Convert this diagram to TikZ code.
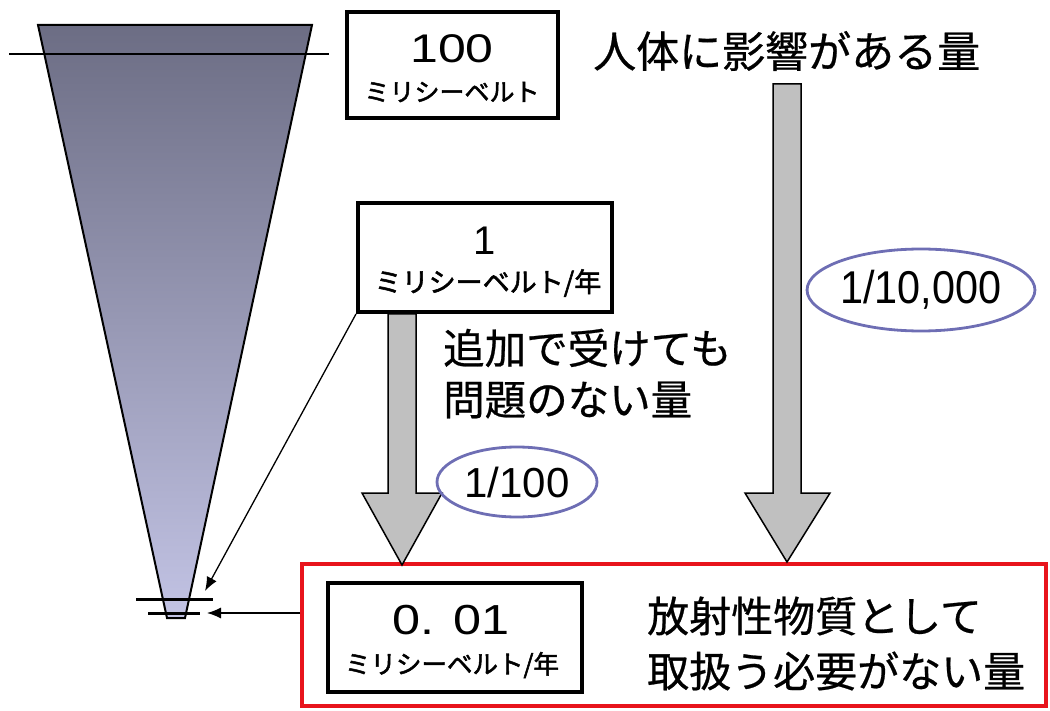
\documentclass[tikz,border=0pt]{standalone}
\usepackage{fontspec}
\setmainfont{Liberation Sans}
\newfontfamily\jp[FakeBold=0.6]{Noto Sans CJK JP}
\newfontfamily\jpb[FakeBold=2]{Noto Sans CJK JP}
\usetikzlibrary{arrows.meta,shapes.geometric}
\definecolor{conetop}{HTML}{6C6D84}
\definecolor{conebot}{HTML}{C2C3E4}
\definecolor{ellblue}{HTML}{6E6EB4}
\definecolor{arrgray}{HTML}{C0C0C0}
\definecolor{redbox}{HTML}{E8141C}
\tikzset{
  valbox/.style={draw=black,line width=4pt,inner sep=0pt},
  bigtxt/.style={font=\fontsize{42}{48}\selectfont\jp,inner sep=0pt,anchor=west},
  numtxt/.style={font=\fontsize{40}{44}\selectfont,inner sep=0pt},
  unittxt/.style={font=\fontsize{#1}{#1}\selectfont\jpb,inner sep=0pt},
  ratio/.style={draw=ellblue,line width=2.8pt,ellipse,inner sep=0pt},
  grayarr/.style={draw=black,line width=1.5pt,fill=arrgray,line join=miter},
  ptr/.style={-{Latex[length=14pt,width=11pt]},line width=1.3pt},
  tickline/.style={line width=3pt}
}
\begin{document}
\begin{tikzpicture}[x=1pt,y=-1pt]
\useasboundingbox (0,0) rectangle (1050,711);
% cone
\shade[top color=conetop,bottom color=conebot] (38,25) -- (312,25) -- (185,618) -- (167,618) -- cycle;
\draw[line width=2pt,line join=miter] (38,25) -- (312,25) -- (185,618) -- (167,618) -- cycle;
\draw[line width=2pt] (9,54) -- (329,54);
\draw[tickline] (136,599) -- (213,599);
\draw[tickline] (148,613) -- (200,613);
% value boxes
\node[valbox,minimum width=211pt,minimum height=106pt] (b100) at (452.5,65.5) {};
\node[numtxt] (t100) at (452,49) {\scalebox{1.25}[1]{100}};
\node[unittxt=25] (u100) at (452,92) {ミリシーベルト};
\node[valbox,minimum width=254pt,minimum height=109pt] (b1) at (485,257.5) {};
\node[numtxt] (t1) at (485,241) {1};
\node[unittxt=27] (u1) at (488,283) {ミリシーベルト/年};
% red box
\node[draw=redbox,line width=4pt,minimum width=744pt,minimum height=142pt,inner sep=0pt] (red) at (674,635) {};
\node[valbox,minimum width=254pt,minimum height=109pt] (b001) at (455,637.5) {};
\node[numtxt,font=\fontsize{42}{44}\selectfont] (t001) at (451,620) {\scalebox{1.2}[1]{0. 01}};
\node[unittxt=25.5] (u001) at (452,665) {ミリシーベルト/年};
% texts
\node[bigtxt,font=\fontsize{43}{48}\selectfont\jp] (effect) at (593,51) {人体に影響がある量};
\node[bigtxt,font=\fontsize{41.5}{48}\selectfont\jp] (safe1) at (443,348) {追加で受けても};
\node[bigtxt,font=\fontsize{41.5}{48}\selectfont\jp] (safe2) at (443,400) {問題のない量};
\node[bigtxt] (exempt1) at (647,616) {放射性物質として};
\node[bigtxt] (exempt2) at (647,671) {取扱う必要がない量};
% gray arrows
\draw[grayarr] (388,314) -- (416,314) -- (416,493) -- (442,493) -- (402,565) -- (362,493) -- (388,493) -- cycle;
\draw[grayarr] (773,84) -- (801,84) -- (801,493) -- (830,493) -- (787,562) -- (745,493) -- (773,493) -- cycle;
% ratio ellipses
\node[ratio,minimum width=218pt,minimum height=82pt,font=\fontsize{46}{48}\selectfont] (r10000) at (921,290) {\scalebox{0.9}[1]{1/10,000}};
\node[ratio,minimum width=160pt,minimum height=70pt,font=\fontsize{42}{46}\selectfont] (r100) at (517,482) {1/100};
% pointers
\coordinate (tipA) at (205,591);
\coordinate (tipB) at (207,613);
\draw[ptr] (b1.south west) -- (tipA);
\draw[ptr,line width=1.2pt] (red.west |- tipB) -- (tipB);
\end{tikzpicture}
\end{document}
